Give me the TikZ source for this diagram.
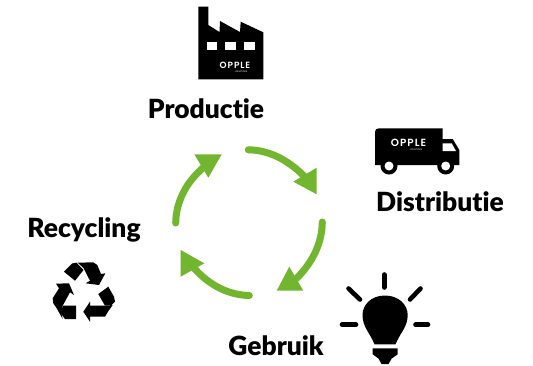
\documentclass[tikz,border=0pt]{standalone}
\usepackage{fontspec}
\setmainfont[Ligatures=CommonOff,BoldFont={Lato Black}]{Lato}
\newfontfamily\logofont[BoldFont={Poppins SemiBold},LetterSpace=10]{Poppins}
\definecolor{arrowgreen}{HTML}{72B62F}
\begin{document}
\begin{tikzpicture}[x=1pt,y=-1pt,
  label/.style={font=\fontsize{26.4}{30}\selectfont\bfseries,text=black,inner sep=0pt,anchor=base},
  cyc/.style={draw=arrowgreen,line width=7pt,line cap=round},
  tip/.style={fill=arrowgreen},
  logo/.style={text=white,inner sep=0pt,anchor=center,font=\logofont\bfseries\fontsize{9}{9}\selectfont},
  sublogo/.style={text=white,inner sep=0pt,anchor=center,font=\logofont\fontsize{2.4}{3}\selectfont},
  ray/.style={draw=black,line width=4.6pt,line cap=round},
  solid black/.style={fill=black}]
\useasboundingbox (0,0) rectangle (533,365);
\fill[white] (0,0) rectangle (533,365);
% cycle arrows
\draw[cyc] (248.3,149.8) .. controls (268,150) and (287,159) .. (304,176);
\fill[tip] (316.7,167.7) -- (316.7,194.3) -- (293.3,181.7) -- cycle;
\draw[cyc] (322.3,222) .. controls (322,243) and (313,262) .. (296,279);
\fill[tip] (289.3,266.7) -- (303.3,290.7) -- (276.7,290.7) -- cycle;
\draw[cyc] (249.3,295.5) .. controls (229,295) and (210,286) .. (194,268);
\fill[tip] (180.7,250) -- (204.3,263.3) -- (180.7,276.7) -- cycle;
\draw[cyc] (175.7,223) .. controls (176,203) and (185,183) .. (204,167);
\fill[tip] (194.3,154.3) -- (221.7,154.3) -- (208.3,177.7) -- cycle;
% factory
\fill[solid black] (198.3,6.7) -- (208.3,6.7) -- (208.3,25) -- (219.5,32) -- (220,21) -- (240,32) -- (240.7,21.7) -- (263.3,32.3) -- (263.3,79.3) -- (198.3,79.3) -- cycle;
\fill[white] (206.7,42.3) rectangle (217.3,50);
\fill[white] (225.3,42.3) rectangle (235.7,50);
\fill[white] (244,42.3) rectangle (254.7,50);
\node[logo] (factorylogo) at (235,65.7) {OPPLE};
\node[sublogo] (factorysub) at (241,72) {LIGHTING};
% truck
\fill[solid black] (375,132) .. controls (375,129.5) and (376.5,128.3) .. (379,128.3) -- (442.7,128.3) -- (442.7,139) -- (452.7,139) -- (459.3,150) -- (459.3,165) -- (375,165) -- cycle;
\fill[white] (442.7,143.3) -- (451.7,143.3) -- (456,151) -- (442.7,151) -- cycle;
\fill[black] (389,166) circle (8.5);
\fill[black] (445.7,166) circle (8.5);
\fill[white] (389,166) circle (4.5);
\fill[white] (445.7,166) circle (4.5);
\node[logo,font=\logofont\bfseries\fontsize{10.4}{10}\selectfont] (trucklogo) at (408.5,143.3) {OPPLE};
\node[sublogo] (trucksub) at (416,149.7) {LIGHTING};
% bulb
\draw[ray] (384.3,274.5) -- (384.3,287.5);
\draw[ray] (348.5,288.5) -- (360,299.5);
\draw[ray] (420.5,288.5) -- (410,299.5);
\draw[ray] (342,324.7) -- (356,324.7);
\draw[ray] (415.5,324.7) -- (428,324.7);
\fill[solid black] (385,295.5) .. controls (399,295.5) and (407.7,305) .. (407.7,315) .. controls (407.7,327) and (400,333) .. (395.5,344.3) -- (374.5,344.3) .. controls (370,333) and (362.5,327) .. (362.5,315) .. controls (362.5,305) and (371,295.5) .. (385,295.5) -- cycle;
\fill[solid black] (372.7,348.3) -- (397.7,348.3) -- (397.7,354.3) -- (391.7,358.5) -- (388.5,364) -- (381.5,364) -- (378.5,358.5) -- (372.7,354.3) -- cycle;
% recycle
\fill[solid black] (64,271.7) -- (72,263.5) -- (76.5,262.7) -- (83.5,270) -- (75,280.7) -- cycle;
\fill[solid black] (77.7,262.7) -- (93.3,262.3) -- (97.3,265) -- (101,274) -- (105.3,273.3) -- (99,285) -- (85.7,283.3) -- (90,280.7) -- (83.5,268) -- cycle;
\fill[solid black] (56,283.7) -- (69,283.3) -- (74,295) -- (70,292.3) -- (62.7,305.7) -- (61.3,313) -- (62.7,319) -- (56.7,308.3) -- (53.3,303.3) -- (52.7,298.3) -- (59,288.3) -- cycle;
\fill[solid black] (63,305.7) -- (76,305.7) -- (76,319) -- (65,319) -- (60.7,313.3) -- cycle;
\fill[solid black] (83.3,311.7) -- (90,301.7) -- (90,305.7) -- (105,305.7) -- (112.7,305) -- (108,311.7) -- (105,316.7) -- (90,316.7) -- (90,321.7) -- cycle;
\fill[solid black] (98.3,294) -- (108.3,286.7) -- (114,296.7) -- (115,301.7) -- (111.7,305) -- (105,305.7) -- cycle;
% labels
\node[label] (productie) at (206,118) {Productie};
\node[label] (distributie) at (440,211) {Distributie};
\node[label] (gebruik) at (276,355) {Gebruik};
\node[label] (recycling) at (84,237) {Recycling};
\end{tikzpicture}
\end{document}
